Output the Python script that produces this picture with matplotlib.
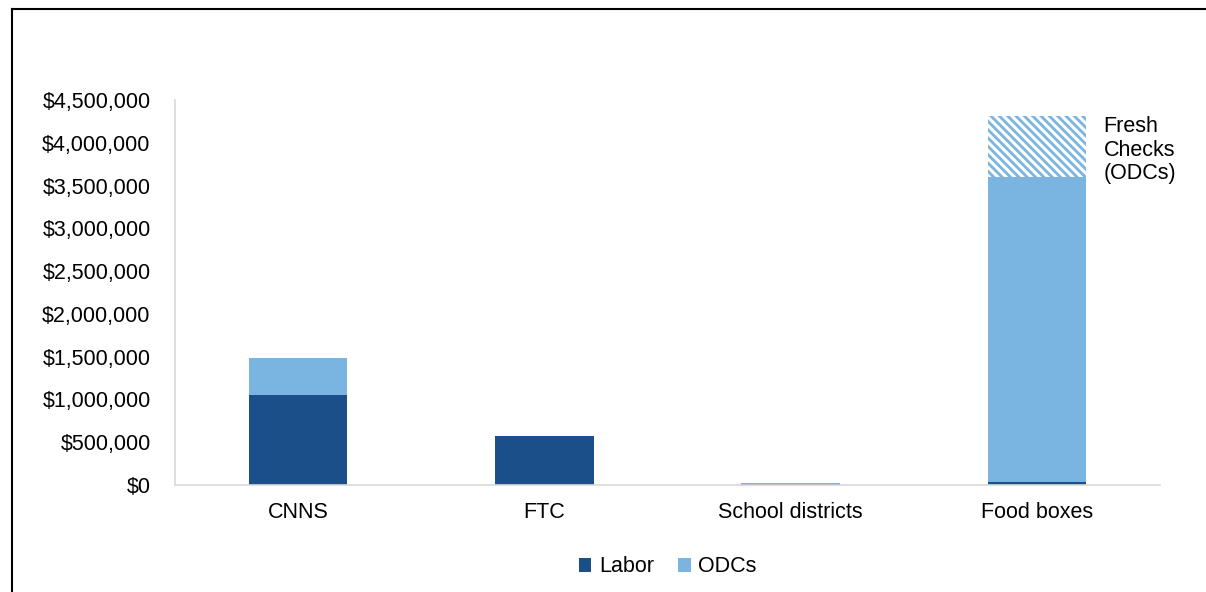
import numpy as np
import matplotlib.pyplot as plt
from matplotlib.lines import Line2D
from matplotlib.ticker import FuncFormatter

plt.rcParams['font.family'] = ['Liberation Sans', 'DejaVu Sans']
plt.rcParams['hatch.linewidth'] = 2.0

categories = ["CNNS", "FTC", "School districts", "Food boxes"]
labor = [1050000, 572000, 10000, 35000]
odcs = [430000, 0, 8000, 3565000]
fresh_checks = [0, 0, 0, 710000]

labor_color = "#1B4F8A"
odc_color = "#7AB4E0"
fs = 15.5

fig = plt.figure(figsize=(12.06, 5.92), dpi=100)
ax = fig.add_axes([0.145, 0.181, 0.817, 0.65])

x = np.arange(len(categories))
w = 0.4
ax.bar(x, labor, w, color=labor_color, label="Labor")
ax.bar(x, odcs, w, bottom=labor, color=odc_color, label="ODCs")
base = np.array(labor) + np.array(odcs)
ax.bar(x, fresh_checks, w, bottom=base, facecolor="white", edgecolor=odc_color,
       hatch="\\\\\\\\", linewidth=0)

ax.text(x[3] + 0.27, base[3] + fresh_checks[3], "Fresh\nChecks\n(ODCs)",
        fontsize=fs, va="top", ha="left", linespacing=1.15)

ax.set_xlim(-0.5, 3.5)
ax.set_ylim(0, 4500000)
ax.set_yticks(np.arange(0, 4500001, 500000))
ax.yaxis.set_major_formatter(FuncFormatter(lambda v, p: "${:,.0f}".format(v)))
ax.set_xticks(x)
ax.set_xticklabels(categories)
ax.tick_params(axis="both", length=0, labelsize=fs, colors="#000000")
ax.tick_params(axis="x", pad=12)
ax.tick_params(axis="y", pad=17.5)
for s in ["top", "right"]:
    ax.spines[s].set_visible(False)
for s in ["left", "bottom"]:
    ax.spines[s].set_color("#D9D9D9")
    ax.spines[s].set_linewidth(1.2)

ax.legend(loc="center", bbox_to_anchor=(0.5, -0.213), ncol=2, frameon=False,
          fontsize=fs, handlelength=0.6, handleheight=0.6, handletextpad=0.35,
          columnspacing=1.1)

fig.add_artist(Line2D([12 / 1206, 1.0], [1 - 9 / 592, 1 - 9 / 592],
                      transform=fig.transFigure, color="black", lw=1.5))
fig.add_artist(Line2D([12 / 1206, 12 / 1206], [0, 1 - 9 / 592],
                      transform=fig.transFigure, color="black", lw=1.5))

fig.savefig("out.png", dpi=100)
